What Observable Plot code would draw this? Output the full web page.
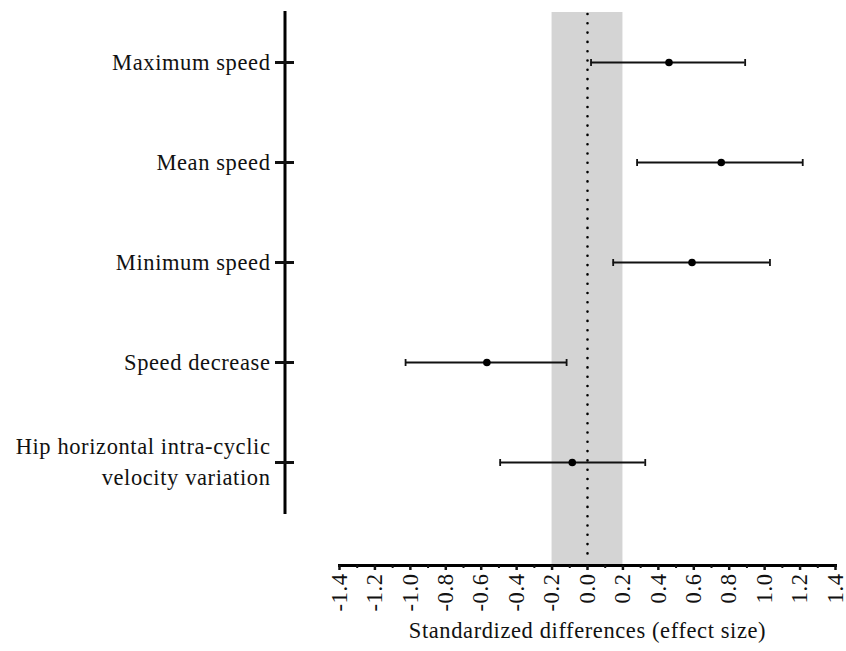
<!DOCTYPE html>
<html>
<head>
<meta charset="utf-8">
<script src="https://cdn.jsdelivr.net/npm/d3@7"></script>
<script src="https://cdn.jsdelivr.net/npm/@observablehq/plot@0.6"></script>
<style>
  html, body { margin: 0; padding: 0; background: #fff; }
  svg { overflow: visible; }
</style>
</head>
<body>
<div id="chart"></div>
<script>
const categories = [
  "Maximum speed",
  "Mean speed",
  "Minimum speed",
  "Speed decrease",
  "Hip horizontal intra-cyclic\nvelocity variation"
];
const effect = [0.46, 0.755, 0.59, -0.568, -0.086];
const lower  = [0.02, 0.28, 0.145, -1.027, -0.493];
const upper  = [0.89, 1.215, 1.03, -0.118, 0.326];
const majorTicks = [-1.4, -1.2, -1.0, -0.8, -0.6, -0.4, -0.2, 0.0, 0.2, 0.4, 0.6, 0.8, 1.0, 1.2, 1.4];
const minorTicks = [-1.3, -1.1, -0.9, -0.7, -0.5, -0.3, -0.1, 0.1, 0.3, 0.5, 0.7, 0.9, 1.1, 1.3];
const trivialBand = [-0.2, 0.2];
const xLabel = "Standardized differences (effect size)";

const rows = categories.map((c, i) => ({cat: c, eff: effect[i], lo: lower[i], hi: upper[i]}));

// vertical bar symbol for error-bar caps
const capSymbol = {
  draw(context, size) {
    const h = Math.sqrt(size / Math.PI);
    context.moveTo(0, -h);
    context.lineTo(0, h);
  }
};

const chart = Plot.plot({
  width: 846,
  height: 651,
  marginLeft: 339,
  marginRight: 11,
  marginTop: 12,
  marginBottom: 86,
  style: {fontFamily: "'Liberation Serif', serif", fontSize: "22.5px", color: "#111", background: "#fff", letterSpacing: "0.6px", overflow: "visible"},
  x: {domain: [-1.4, 1.4]},
  y: {type: "point", domain: categories, padding: 0.5, insetBottom: 53},
  marks: [
    Plot.rect([trivialBand], {x1: d => d[0], x2: d => d[1], fill: "#d4d4d4"}),
    Plot.ruleX([0], {stroke: "#000", strokeWidth: 2.6, strokeDasharray: "0 9.3", strokeLinecap: "round", insetTop: 2, insetBottom: 5}),
    Plot.frame({anchor: "left", insetLeft: -54.5, insetBottom: 53, strokeWidth: 3, stroke: "#000"}),
    Plot.frame({anchor: "bottom", strokeWidth: 3, stroke: "#000"}),
    Plot.axisY({tickSize: 19, dx: -45, tickFormat: () => "", strokeWidth: 3, label: null}),
    Plot.axisY({tickSize: 0, dx: -45, dy: -3, tickPadding: 24, label: null, lineHeight: 1.4}),
    Plot.axisX({ticks: majorTicks, tickFormat: d => d.toFixed(1), tickRotate: -90, tickSize: 5, tickPadding: 3, strokeWidth: 2.5,
      label: xLabel, labelAnchor: "center", labelOffset: 72, labelArrow: "none"}),
    Plot.axisX({ticks: minorTicks, tickFormat: () => "", tickSize: 3, strokeWidth: 2, label: null}),
    Plot.ruleY(rows, {y: "cat", x1: "lo", x2: "hi", stroke: "#111", strokeWidth: 1.8}),
    Plot.dot(rows, {x: "lo", y: "cat", symbol: capSymbol, r: 3.5, fill: "none", stroke: "#111", strokeWidth: 1.8}),
    Plot.dot(rows, {x: "hi", y: "cat", symbol: capSymbol, r: 3.5, fill: "none", stroke: "#111", strokeWidth: 1.8}),
    Plot.dot(rows, {x: "eff", y: "cat", r: 3.8, fill: "#000"})
  ]
});
document.getElementById("chart").appendChild(chart);
</script>
</body>
</html>
